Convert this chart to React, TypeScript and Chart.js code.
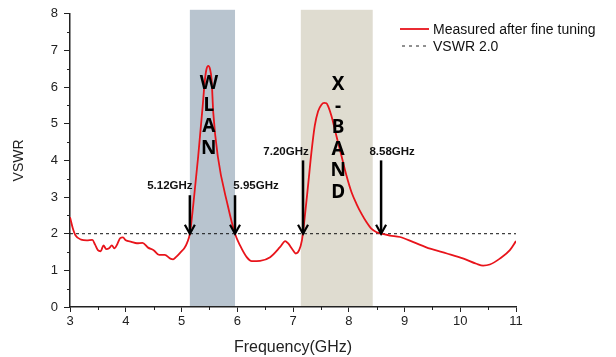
import React, { useEffect, useRef } from 'react';
import { Chart, registerables } from 'chart.js';

Chart.register(...registerables);

// ---- data ----
const freq = [
  3.0, 3.05, 3.1, 3.2, 3.3, 3.4, 3.45, 3.5, 3.55, 3.6, 3.65, 3.7, 3.75, 3.8, 3.85, 3.9, 3.95,
  4.0, 4.1, 4.2, 4.3, 4.4, 4.5, 4.6, 4.7, 4.8, 4.85, 4.9, 5.0, 5.05, 5.1, 5.15, 5.21, 5.3,
  5.38, 5.42, 5.45, 5.48, 5.51, 5.54, 5.57, 5.65, 5.83, 5.96, 6.05, 6.17, 6.26, 6.41, 6.59, 6.77, 6.86,
  6.91, 7.0, 7.05, 7.11, 7.16, 7.18, 7.27, 7.33, 7.39, 7.45, 7.51, 7.56, 7.6, 7.63, 7.69, 7.78,
  7.87, 7.96, 8.05, 8.14, 8.23, 8.32, 8.41, 8.5, 8.58, 8.74, 8.92, 9.16, 9.46, 9.76, 10.06,
  10.29, 10.41, 10.53, 10.71, 10.89, 11.0,
];
const vswr = [
  2.45, 2.15, 1.95, 1.84, 1.82, 1.83, 1.7, 1.55, 1.52, 1.68, 1.58, 1.6, 1.68, 1.6, 1.72, 1.88, 1.9,
  1.82, 1.78, 1.74, 1.75, 1.62, 1.55, 1.42, 1.42, 1.32, 1.3, 1.36, 1.52, 1.6, 1.75, 2.0, 2.77, 4.12,
  5.48, 6.2, 6.5, 6.58, 6.5, 6.2, 5.3, 4.12, 2.77, 2.0, 1.68, 1.36, 1.25, 1.26, 1.36, 1.64, 1.8,
  1.74, 1.55, 1.46, 1.55, 1.82, 2.04, 3.31, 4.21, 4.94, 5.34, 5.52, 5.57, 5.56, 5.48, 5.21, 4.66,
  4.12, 3.58, 3.13, 2.81, 2.54, 2.31, 2.13, 2.04, 2.0, 1.95, 1.91, 1.77, 1.59, 1.46, 1.32,
  1.18, 1.13, 1.16, 1.32, 1.55, 1.8,
];
const refLevel = 2.0;
const refFreq = [3, 11];

const seriesNames = ['Measured after fine tuning', 'VSWR 2.0'];
const xTitle = 'Frequency(GHz)';
const yTitle = 'VSWR';

// shaded bands
const bandStart = [5.15, 7.14];
const bandEnd = [5.96, 8.43];
const bandLetters = [['W', 'L', 'A', 'N'], ['X', '-', 'B', 'A', 'N', 'D']];
const bandLetterFreq = [5.49, 7.81];
const bandLetterTop = [6.1, 6.07];

// arrow annotations
const arrowFreq = [5.15, 5.96, 7.18, 8.58];
const arrowText = ['5.12GHz', '5.95GHz', '7.20GHz', '8.58GHz'];
const arrowTop = [3.05, 3.05, 4.0, 4.0];

// ---- styles ----
const bandColors = ['#b8c4cf', '#dfdcd0'];
const labelShift = [-20, 21, -17, 11];
const FONT = '"Liberation Sans", Arial, sans-serif';
const BOLD = '"Noto Sans", "Liberation Sans", Arial, sans-serif';

const overlay = {
  id: 'overlay',
  beforeDatasetsDraw(chart: any) {
    const { ctx, chartArea, scales } = chart;
    const x = scales.x;
    ctx.save();
    bandStart.forEach((s, i) => {
      const x0 = x.getPixelForValue(s);
      const x1 = x.getPixelForValue(bandEnd[i]);
      ctx.fillStyle = bandColors[i];
      ctx.fillRect(x0, chartArea.top - 4, x1 - x0, chartArea.bottom - chartArea.top + 3);
    });
    ctx.restore();
  },
  afterDatasetsDraw(chart: any) {
    const { ctx, scales } = chart;
    const x = scales.x;
    const y = scales.y;
    ctx.save();
    // band letters
    ctx.fillStyle = '#000';
    ctx.textAlign = 'center';
    ctx.textBaseline = 'middle';
    const step = [21.8, 21.6];
    bandLetters.forEach((letters, i) => {
      const cx = x.getPixelForValue(bandLetterFreq[i]);
      const top = y.getPixelForValue(bandLetterTop[i]);
      letters.forEach((ch, j) => {
        ctx.font = `bold 19px ${BOLD}`;
        ctx.fillText(ch, cx, top + j * step[i]);
      });
    });
    // arrows
    arrowFreq.forEach((f, i) => {
      const ax = x.getPixelForValue(f);
      const yTop = y.getPixelForValue(arrowTop[i]);
      const yTip = y.getPixelForValue(refLevel);
      ctx.strokeStyle = '#000';
      ctx.lineWidth = 2.5;
      ctx.lineCap = 'butt';
      ctx.beginPath();
      ctx.moveTo(ax, yTop);
      ctx.lineTo(ax, yTip - 1);
      ctx.stroke();
      ctx.lineWidth = 2.2;
      ctx.beginPath();
      ctx.moveTo(ax - 5, yTip - 9);
      ctx.lineTo(ax, yTip);
      ctx.lineTo(ax + 5, yTip - 9);
      ctx.stroke();
      ctx.font = `bold 11.5px ${FONT}`;
      ctx.fillStyle = '#111';
      ctx.textAlign = 'center';
      ctx.textBaseline = 'middle';
      ctx.fillText(arrowText[i], ax + labelShift[i], yTop - 9);
    });
    ctx.restore();
  },
  afterDraw(chart: any) {
    const { ctx, chartArea, scales } = chart;
    const x = scales.x;
    const y = scales.y;
    ctx.save();
    // minor ticks
    ctx.strokeStyle = '#222';
    ctx.lineWidth = 1;
    for (let v = 3.5; v < 11; v += 1) {
      const px = Math.round(x.getPixelForValue(v)) + 0.5;
      ctx.beginPath();
      ctx.moveTo(px, chartArea.bottom);
      ctx.lineTo(px, chartArea.bottom + 3);
      ctx.stroke();
    }
    for (let v = 0.5; v < 8; v += 1) {
      const py = Math.round(y.getPixelForValue(v)) + 0.5;
      ctx.beginPath();
      ctx.moveTo(chartArea.left - 3, py);
      ctx.lineTo(chartArea.left, py);
      ctx.stroke();
    }
    // legend
    ctx.font = `14px ${FONT}`;
    ctx.fillStyle = '#111';
    ctx.textAlign = 'left';
    ctx.textBaseline = 'middle';
    ctx.strokeStyle = '#e8141b';
    ctx.lineWidth = 1.8;
    ctx.beginPath();
    ctx.moveTo(400, 29);
    ctx.lineTo(429, 29);
    ctx.stroke();
    ctx.fillText(seriesNames[0], 433, 30);
    ctx.strokeStyle = '#222';
    ctx.lineWidth = 1;
    ctx.setLineDash([3, 4]);
    ctx.beginPath();
    ctx.moveTo(402, 46);
    ctx.lineTo(429, 46);
    ctx.stroke();
    ctx.setLineDash([]);
    ctx.fillText(seriesNames[1], 433, 47);
    ctx.restore();
  },
};

export default function App() {
  const ref = useRef<HTMLCanvasElement | null>(null);
  useEffect(() => {
    if (!ref.current) return;
    const chart = new Chart(ref.current, {
      type: 'line',
      data: {
        datasets: [
          {
            label: seriesNames[0],
            data: freq.map((f, i) => ({ x: f, y: vswr[i] })),
            borderColor: '#e8141b',
            borderWidth: 1.8,
            pointRadius: 0,
            cubicInterpolationMode: 'monotone',
            fill: false,
          },
          {
            label: seriesNames[1],
            data: refFreq.map((f) => ({ x: f, y: refLevel })),
            borderColor: '#111',
            borderWidth: 1,
            borderDash: [3, 3],
            pointRadius: 0,
            fill: false,
          },
        ],
      },
      options: {
        animation: false,
        responsive: false,
        devicePixelRatio: 1,
        layout: { padding: { left: 0, top: 12, right: 100, bottom: 0 } },
        plugins: { legend: { display: false }, tooltip: { enabled: false } },
        scales: {
          x: {
            type: 'linear',
            min: 3,
            max: 11,
            afterFit: (s: any) => { s.height = 50; },
            ticks: { stepSize: 1, padding: 2, color: '#222', font: { family: FONT, size: 13 } },
            grid: { drawOnChartArea: false, drawTicks: true, tickLength: 5, tickColor: '#222' },
            border: { display: true, color: '#222', width: 1.5 },
            title: { display: true, text: xTitle, color: '#222', font: { family: FONT, size: 16 }, padding: { top: 0, bottom: 0 } },
          },
          y: {
            min: 0,
            max: 8,
            afterFit: (s: any) => { s.width = 70; },
            ticks: { stepSize: 1, padding: 6, color: '#222', font: { family: FONT, size: 13 } },
            grid: { drawOnChartArea: false, drawTicks: true, tickLength: 6, tickColor: '#222' },
            border: { display: true, color: '#222', width: 1.5 },
            title: { display: true, text: yTitle, color: '#222', font: { family: FONT, size: 14 }, padding: { top: 11, bottom: 0 } },
          },
        },
      },
      plugins: [overlay],
    } as any);
    return () => chart.destroy();
  }, []);
  return (
    <div style={{ position: 'fixed', left: 0, top: 0, width: 616, height: 357, background: '#fff' }}>
      <canvas ref={ref} width={616} height={357} style={{ display: 'block' }} />
    </div>
  );
}
